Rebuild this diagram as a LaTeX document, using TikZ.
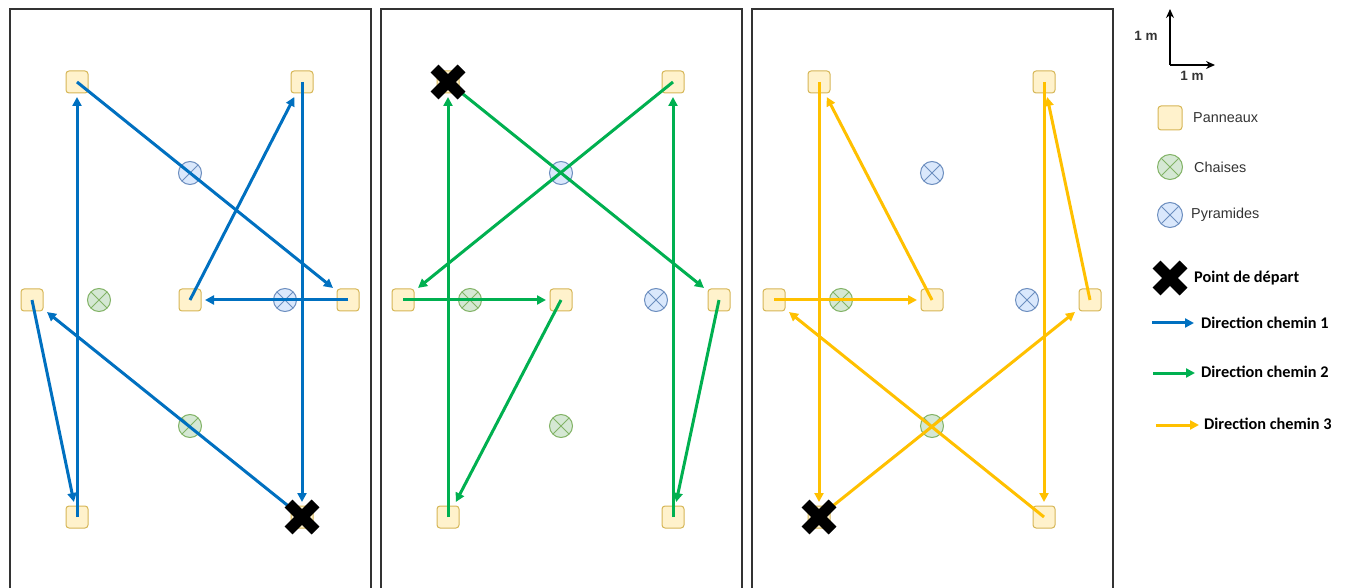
\documentclass[tikz,border=0pt]{standalone}
\usepackage{fontspec}
\setmainfont{Liberation Sans}
\newfontfamily\carlito{Carlito}
\usetikzlibrary{arrows.meta,shapes.misc}
\definecolor{panfill}{HTML}{FFF2CC}
\definecolor{pandraw}{HTML}{D6B656}
\definecolor{chfill}{HTML}{D5E8D4}
\definecolor{chdraw}{HTML}{82B366}
\definecolor{pyfill}{HTML}{DAE8FC}
\definecolor{pydraw}{HTML}{6C8EBF}
\definecolor{cheminA}{HTML}{0070C0}
\definecolor{cheminB}{HTML}{00B050}
\definecolor{cheminC}{HTML}{FFC000}
\definecolor{cadre}{HTML}{333333}
\tikzset{
  terrain/.style={draw=cadre, line width=2.4pt},
  pan/.style={rectangle, rounded corners=3pt, minimum size=22pt, inner sep=0pt, outer sep=4pt, draw=pandraw, fill=panfill, line width=1pt},
  rond/.style={circle, minimum size=23pt, inner sep=0pt, line width=1pt,
    path picture={\draw[line width=0.9pt, #1] (path picture bounding box.north west) -- (path picture bounding box.south east)
      (path picture bounding box.north east) -- (path picture bounding box.south west);}},
  chaise/.style={rond=chdraw, draw=chdraw, fill=chfill},
  pyra/.style={rond=pydraw, draw=pydraw, fill=pyfill},
  depart/.style={cross out, draw=black, line width=11pt, minimum size=27pt, inner sep=0pt, outer sep=0pt},
  fl/.style={-{Triangle[length=9pt, width=9pt]}, line width=3pt},
  ch1/.style={fl, color=cheminA},
  ch2/.style={fl, color=cheminB},
  ch3/.style={fl, color=cheminC},
  axe/.style={-{Stealth[length=9pt, width=8pt]}, line width=1.5pt},
  lbl/.style={anchor=west, inner sep=0pt, text=cadre, font=\fontsize{14.4}{17}\selectfont},
  lgd/.style={anchor=west, inner sep=0pt, font=\carlito\bfseries\fontsize{16.3}{19}\selectfont},
  unite/.style={inner sep=0pt, text=cadre, font=\bfseries\fontsize{13.5}{16}\selectfont},
}
\begin{document}
\begin{tikzpicture}[x=1pt, y=-1pt]
  \useasboundingbox (0,0) rectangle (1345,588);
  \clip (0,0) rectangle (1345,588);
  % terrains
  \draw[terrain] (10,620) |- (371,9) -- (371,620);
  \draw[terrain] (381,620) |- (742,9) -- (742,620);
  \draw[terrain] (752,620) |- (1113,9) -- (1113,620);
  % chemin 1
  \node[pan] (tl1) at (77,82) {};
  \node[pan] (tr1) at (302,82) {};
  \node[pan] (ml1) at (32,300) {};
  \node[pan] (mm1) at (190,300) {};
  \node[pan] (mr1) at (348,300) {};
  \node[pan] (bl1) at (77,517) {};
  \node[pan] (br1) at (302,517) {};
  \node[pyra] (py1a) at (190,173) {};
  \node[pyra] (py1b) at (285,300) {};
  \node[chaise] (cs1a) at (99,300) {};
  \node[chaise] (cs1b) at (190,426) {};
  % chemin 2
  \node[pan] (tl2) at (448,82) {};
  \node[pan] (tr2) at (673,82) {};
  \node[pan] (ml2) at (403,300) {};
  \node[pan] (mm2) at (561,300) {};
  \node[pan] (mr2) at (719,300) {};
  \node[pan] (bl2) at (448,517) {};
  \node[pan] (br2) at (673,517) {};
  \node[pyra] (py2a) at (561,173) {};
  \node[pyra] (py2b) at (656,300) {};
  \node[chaise] (cs2a) at (470,300) {};
  \node[chaise] (cs2b) at (561,426) {};
  % chemin 3
  \node[pan] (tl3) at (819,82) {};
  \node[pan] (tr3) at (1044,82) {};
  \node[pan] (ml3) at (774,300) {};
  \node[pan] (mm3) at (932,300) {};
  \node[pan] (mr3) at (1090,300) {};
  \node[pan] (bl3) at (819,517) {};
  \node[pan] (br3) at (1044,517) {};
  \node[pyra] (py3a) at (932,173) {};
  \node[pyra] (py3b) at (1027,300) {};
  \node[chaise] (cs3a) at (841,300) {};
  \node[chaise] (cs3b) at (932,426) {};
  % fleches
  \draw[ch1] (br1.center) -- (ml1); \draw[ch1] (ml1.center) -- (bl1); \draw[ch1] (bl1.center) -- (tl1);
  \draw[ch1] (tl1.center) -- (mr1); \draw[ch1] (mr1.center) -- (mm1); \draw[ch1] (mm1.center) -- (tr1);
  \draw[ch1] (tr1.center) -- (br1);
  \draw[ch2] (tl2.center) -- (mr2); \draw[ch2] (mr2.center) -- (br2); \draw[ch2] (br2.center) -- (tr2);
  \draw[ch2] (tr2.center) -- (ml2); \draw[ch2] (ml2.center) -- (mm2); \draw[ch2] (mm2.center) -- (bl2);
  \draw[ch2] (bl2.center) -- (tl2);
  \draw[ch3] (bl3.center) -- (mr3); \draw[ch3] (mr3.center) -- (tr3); \draw[ch3] (tr3.center) -- (br3);
  \draw[ch3] (br3.center) -- (ml3); \draw[ch3] (ml3.center) -- (mm3); \draw[ch3] (mm3.center) -- (tl3);
  \draw[ch3] (tl3.center) -- (bl3);
  \node[depart] (x1) at (302,517) {};
  \node[depart] (x2) at (448,82) {};
  \node[depart] (x3) at (819,517) {};
  % legende
  \coordinate (orig) at (1170,65);
  \coordinate (axy) at (1170,9);
  \coordinate (axx) at (1215,65);
  \draw[axe] (orig) -- (axy); \draw[axe] (orig) -- (axx);
  \node[unite] (uy) at (1146,36) {1 m};
  \node[unite] (ux) at (1192,76) {1 m};
  \node[pan, minimum size=24pt] (lpan) at (1170,118) {};
  \node[lbl] (tpan) at (1193,118) {Panneaux};
  \node[chaise, minimum size=25pt] (lcs) at (1170,167) {};
  \node[lbl] (tcs) at (1194,167) {Chaises};
  \node[pyra, minimum size=25pt] (lpy) at (1170,215) {};
  \node[lbl] (tpy) at (1191,215) {Pyramides};
  \node[depart] (lx) at (1170,278) {};
  \node[lgd] (tx) at (1194,278) {Point de départ};
  \coordinate (l1a) at (1152,323); \coordinate (l1b) at (1194,323);
  \coordinate (l2a) at (1153,373); \coordinate (l2b) at (1195,373);
  \coordinate (l3a) at (1156,425); \coordinate (l3b) at (1199,425);
  \draw[ch1] (l1a) -- (l1b); \draw[ch2] (l2a) -- (l2b); \draw[ch3] (l3a) -- (l3b);
  \node[lgd] (t1) at (1201,323) {Direction chemin 1};
  \node[lgd] (t2) at (1201,372) {Direction chemin 2};
  \node[lgd] (t3) at (1204,424) {Direction chemin 3};
\end{tikzpicture}
\end{document}
